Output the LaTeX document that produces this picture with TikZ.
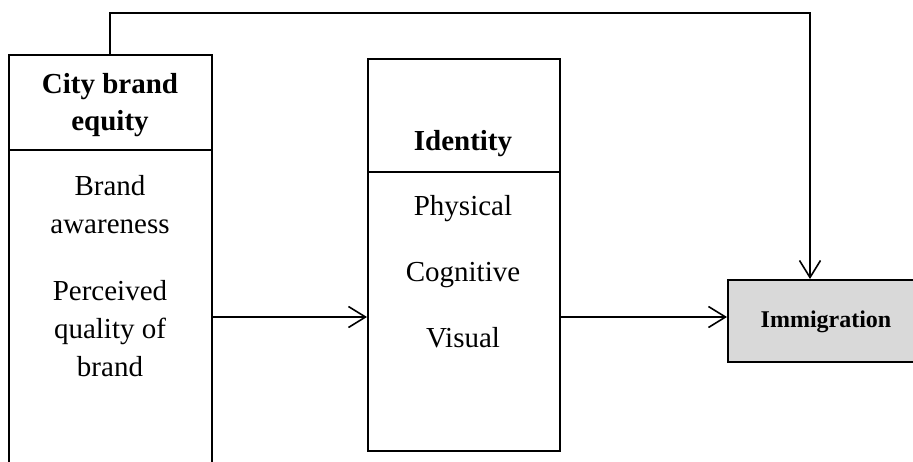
\documentclass[tikz,border=0pt]{standalone}
\usepackage{fontspec}
\setmainfont{Liberation Serif}
\usetikzlibrary{arrows.meta}
\definecolor{boxgray}{HTML}{D9D9D9}
\tikzset{
  frame/.style={draw=black, line width=1.6pt, inner sep=0pt, anchor=north west},
  conn/.style={line width=1.6pt, -{Straight Barb[length=17pt,width=21pt]}},
  divider/.style={line width=1.6pt},
  head/.style={anchor=base, inner sep=0pt, font=\fontsize{29pt}{37pt}\selectfont\bfseries},
  body/.style={anchor=base, inner sep=0pt, font=\fontsize{29pt}{37pt}\selectfont},
  small/.style={anchor=base, inner sep=0pt, font=\fontsize{24pt}{30pt}\selectfont\bfseries}
}
\begin{document}
\begin{tikzpicture}[x=1pt,y=-1pt]
\useasboundingbox (0,0) rectangle (913,461);
% boxes
\node[frame, minimum width=203pt, minimum height=426pt] (cbe) at (8,54) {};
\node[frame, minimum width=192pt, minimum height=392pt] (id) at (367,58) {};
\node[frame, fill=boxgray, minimum width=200pt, minimum height=82pt] (imm) at (727,279) {};
% dividers
\coordinate (d1) at (0,150);
\coordinate (d2) at (0,172);
\draw[divider] (cbe.west |- d1) -- (cbe.east |- d1);
\draw[divider] (id.west |- d2) -- (id.east |- d2);
% texts
\node[head] (t1) at (110,93) {City brand};
\node[head] (t2) at (110,130) {equity};
\node[body] (t3) at (110,195) {Brand};
\node[body] (t4) at (110,233) {awareness};
\node[body] (t5) at (110,300) {Perceived};
\node[body] (t6) at (110,338) {quality of};
\node[body] (t7) at (110,376) {brand};
\node[head] (t8) at (463,150) {Identity};
\node[body] (t9) at (463,215) {Physical};
\node[body] (t10) at (463,281) {Cognitive};
\node[body] (t11) at (463,347) {Visual};
\node[small] (t12) at (826,327) {Immigration};
% connectors
\coordinate (ay) at (0,317);
\coordinate (tl) at (110,13);
\coordinate (tr) at (810,13);
\draw[conn] (cbe.east |- ay) -- (id.west |- ay);
\draw[conn] (id.east |- ay) -- (imm.west |- ay);
\draw[conn] (cbe.north -| tl) -- (tl) -- (tr) -- (tr |- imm.north);
\end{tikzpicture}
\end{document}
